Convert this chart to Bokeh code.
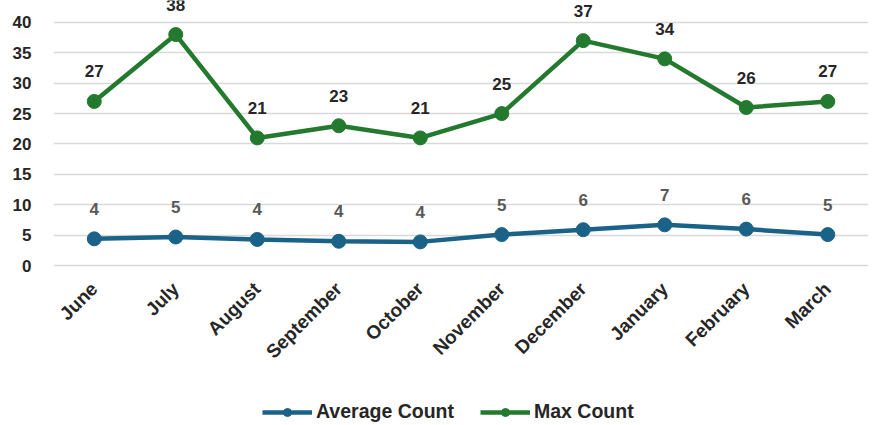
import math

from bokeh.core.properties import value
from bokeh.embed import file_html
from bokeh.models import (ColumnDataSource, FixedTicker, LabelSet, Legend,
                          LegendItem, Range1d)
from bokeh.plotting import figure
from bokeh.resources import INLINE

months = ["June", "July", "August", "September", "October", "November",
          "December", "January", "February", "March"]
average_count = [4.4, 4.7, 4.3, 4.0, 3.9, 5.1, 5.9, 6.7, 6.0, 5.1]
max_count = [27, 38, 21, 23, 21, 25, 37, 34, 26, 27]
y_ticks = [0, 5, 10, 15, 20, 25, 30, 35, 40]

BLUE = "#1A6288"
GREEN = "#237A2E"
NUM_FONT = "Liberation Sans"
LABEL_FONT = "Liberation Sans"

src = ColumnDataSource(dict(
    month=months,
    avg=average_count,
    mx=max_count,
    avg_txt=[str(int(round(v))) for v in average_count],
    mx_txt=[str(v) for v in max_count],
))

# The frame spans the full height; the category axis sits at y = 0 and the
# legend is placed in the space beneath it.
p = figure(width=874, height=425, x_range=months,
           y_range=Range1d(-26.3, 43.6),
           output_backend="svg", toolbar_location=None,
           min_border_left=53, min_border_right=6, min_border_top=0,
           min_border_bottom=0, outline_line_color=None)

# series lines and markers
avg_line = p.line("month", "avg", source=src, line_color=BLUE, line_width=4.5)
avg_dot = p.scatter("month", "avg", source=src, size=14, fill_color=BLUE,
                    line_color=BLUE)
max_line = p.line("month", "mx", source=src, line_color=GREEN, line_width=4.5)
max_dot = p.scatter("month", "mx", source=src, size=14, fill_color=GREEN,
                    line_color=GREEN)

# value labels above each point
p.add_layout(LabelSet(x="month", y="mx", text="mx_txt", source=src,
                      y_offset=30, text_align="center", text_baseline="middle",
                      text_font=value(NUM_FONT), text_font_style="bold",
                      text_font_size="17px", text_color="#262626"))
p.add_layout(LabelSet(x="month", y="avg", text="avg_txt", source=src,
                      y_offset=30, text_align="center", text_baseline="middle",
                      text_font=value(NUM_FONT), text_font_style="bold",
                      text_font_size="17px", text_color="#595959"))

# axes and grid
p.yaxis.ticker = FixedTicker(ticks=y_ticks)
p.yaxis.axis_line_color = None
p.yaxis.major_tick_line_color = None
p.yaxis.minor_tick_line_color = None
p.yaxis.major_label_text_font = NUM_FONT
p.yaxis.major_label_text_font_style = "bold"
p.yaxis.major_label_text_font_size = "17px"
p.yaxis.major_label_text_color = "#262626"
p.yaxis.major_label_standoff = 16

p.xaxis.fixed_location = 0
p.xaxis.axis_line_color = None
p.xaxis.major_tick_line_color = None
p.xaxis.major_label_orientation = math.pi / 4
p.xaxis.major_label_text_font = LABEL_FONT
p.xaxis.major_label_text_font_style = "bold"
p.xaxis.major_label_text_font_size = "19px"
p.xaxis.major_label_text_color = "#262626"
p.xaxis.major_label_standoff = 14

p.xgrid.grid_line_color = None
p.ygrid.grid_line_color = "#D9D9D9"
p.ygrid.grid_line_width = 1.5

legend = Legend(items=[
    LegendItem(label="Average Count", renderers=[avg_line, avg_dot]),
    LegendItem(label="Max Count", renderers=[max_line, max_dot]),
], orientation="horizontal", location=(209, 2),
    label_text_font=LABEL_FONT, label_text_font_style="bold",
    label_text_font_size="19.5px", label_text_color="#262626",
    glyph_width=50, glyph_height=20, label_standoff=4, spacing=26,
    border_line_color=None, background_fill_alpha=0, padding=4, margin=0)
p.add_layout(legend, "center")

open("out.html", "w").write(file_html(p, INLINE))
